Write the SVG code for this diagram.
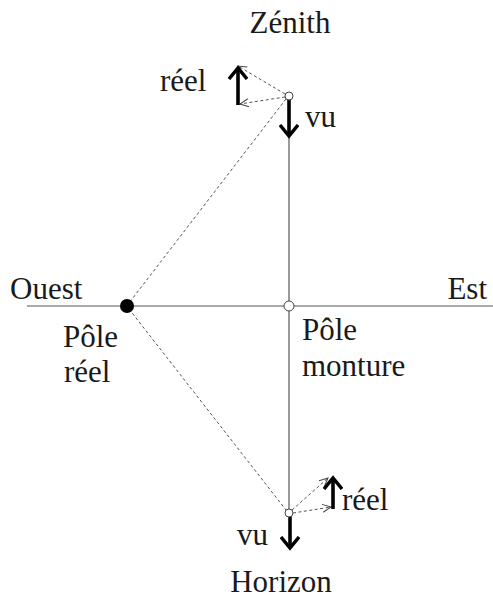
<svg xmlns="http://www.w3.org/2000/svg" width="493" height="599" viewBox="0 0 493 599">
<defs>
<marker id="head" viewBox="0 0 20 20" refX="12" refY="10" markerWidth="20" markerHeight="20" markerUnits="userSpaceOnUse" orient="auto">
<polyline points="1,1 12,10 1,19" fill="none" stroke="#000" stroke-width="3.4"/>
</marker>
<marker id="thin" viewBox="0 0 10 10" refX="9" refY="5" markerWidth="10" markerHeight="10" markerUnits="userSpaceOnUse" orient="auto">
<polyline points="0.5,1 9,5 0.5,9" fill="none" stroke="#444" stroke-width="1"/>
</marker>
</defs>
<rect width="493" height="599" fill="#fff"/>
<g id="connectors" fill="none">
<line stroke="#555" stroke-width="1.2" x1="27" y1="306" x2="493" y2="306"/>
<line stroke="#555" stroke-width="1.2" x1="289" y1="100" x2="289" y2="509"/>
<g stroke="#555" stroke-width="1" stroke-dasharray="3 2.5">
<line x1="286" y1="99" x2="129" y2="303"/>
<line x1="129" y1="309" x2="286" y2="510"/>
<line x1="285" y1="94" x2="238" y2="66" marker-end="url(#thin)"/>
<line x1="285" y1="97" x2="240" y2="104" marker-end="url(#thin)"/>
<line x1="292" y1="510" x2="328" y2="478" marker-end="url(#thin)"/>
<line x1="293" y1="513" x2="331" y2="507" marker-end="url(#thin)"/>
</g>
<g stroke="#000" stroke-width="3.6">
<line x1="238" y1="105" x2="238" y2="68" marker-end="url(#head)"/>
<line x1="289" y1="100" x2="289" y2="136" marker-end="url(#head)"/>
<line x1="333" y1="509" x2="333" y2="478" marker-end="url(#head)"/>
<line x1="290" y1="516" x2="290" y2="548" marker-end="url(#head)"/>
</g>
</g>
<g id="zenith" fill="#1a1a1a">
<circle cx="289" cy="96" r="4" fill="#fff" stroke="#444"/>
<text x="290" y="33" text-anchor="middle" font-family="Liberation Serif" font-size="31">Zénith</text>
<text x="160" y="91" font-family="Liberation Serif" font-size="31">réel</text>
<text x="305" y="127" font-family="Liberation Serif" font-size="31">vu</text>
</g>
<g id="pole-reel" fill="#1a1a1a">
<circle cx="127" cy="306" r="7" fill="#000"/>
<text x="63" y="347" font-family="Liberation Serif" font-size="31">Pôle</text>
<text x="64" y="382" font-family="Liberation Serif" font-size="31">réel</text>
</g>
<g id="pole-monture" fill="#1a1a1a">
<circle cx="289" cy="306" r="5" fill="#fff" stroke="#444"/>
<text x="302" y="340" font-family="Liberation Serif" font-size="31">Pôle</text>
<text x="302" y="376" font-family="Liberation Serif" font-size="31">monture</text>
</g>
<g id="ouest" fill="#1a1a1a">
<text x="10" y="299" font-family="Liberation Serif" font-size="31">Ouest</text>
</g>
<g id="est" fill="#1a1a1a">
<text x="487" y="299" text-anchor="end" font-family="Liberation Serif" font-size="31">Est</text>
</g>
<g id="horizon" fill="#1a1a1a">
<circle cx="289" cy="513" r="4" fill="#fff" stroke="#444"/>
<text x="342" y="510" font-family="Liberation Serif" font-size="31">réel</text>
<text x="237" y="545" font-family="Liberation Serif" font-size="31">vu</text>
<text x="281" y="592" text-anchor="middle" font-family="Liberation Serif" font-size="31">Horizon</text>
</g>
</svg>
